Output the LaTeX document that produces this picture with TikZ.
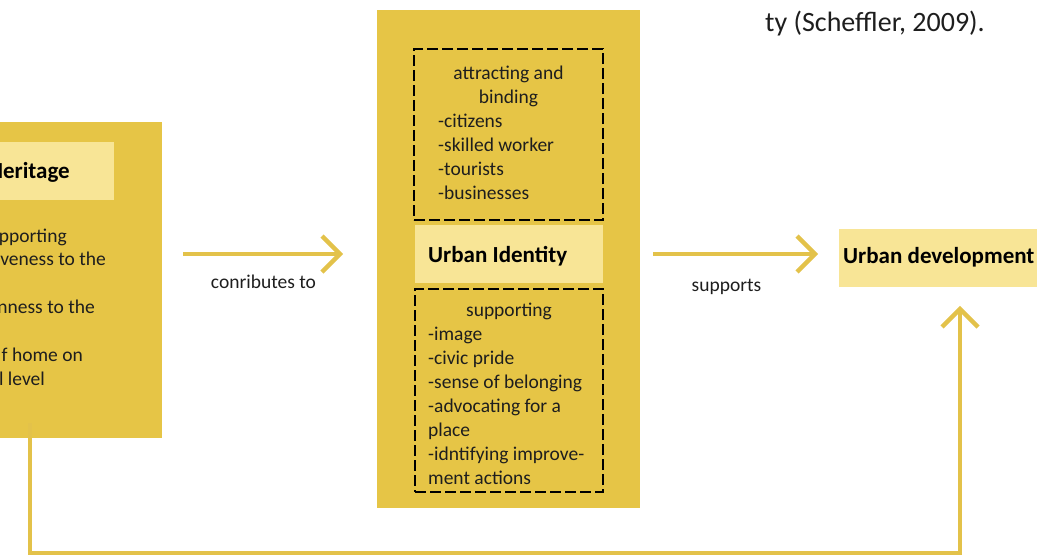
\documentclass[tikz,border=0pt]{standalone}
\usepackage{fontspec}
\setmainfont{Carlito}
\usetikzlibrary{calc}
\definecolor{boxc}{HTML}{E6C546}
\definecolor{lightc}{HTML}{F8E596}
\definecolor{arrc}{HTML}{E3C24A}
\definecolor{txt}{HTML}{1E1E1E}
\tikzset{
  panel/.style={fill=boxc, draw=none, inner sep=0pt, outer sep=0pt},
  labelbox/.style={fill=lightc, draw=none, inner sep=0pt, outer sep=0pt},
  dashbox/.style={draw=black, line width=1.7pt, dash pattern=on 11pt off 4pt, inner sep=0pt},
  body/.style={inner sep=0pt, font=\fontsize{19.5}{24}\selectfont, text=txt},
  boldtext/.style={inner sep=0pt, font=\fontsize{23}{28}\selectfont\bfseries, text=black},
  conn/.style={draw=arrc, line width=4.5pt},
  chevron/.style={draw=arrc, line width=4.5pt, line join=miter},
}
\begin{document}
\begin{tikzpicture}[x=1pt,y=-1pt]
\useasboundingbox (0,0) rectangle (1037,555);
\clip (0,0) rectangle (1037,555);

% panels and label boxes
\node[panel, minimum width=202pt, minimum height=316pt] (left) at (61,280) {};
\node[labelbox, minimum width=154pt, minimum height=58pt] (lefthead) at (37,171) {};
\node[panel, minimum width=263pt, minimum height=498pt] (mid) at (508.5,259) {};
\node[dashbox, minimum width=189pt, minimum height=171pt] (topbox) at (508.5,134.5) {};
\node[labelbox, minimum width=188pt, minimum height=58pt] (idbox) at (509,254) {};
\node[dashbox, minimum width=188pt, minimum height=203pt] (lowbox) at (509,390.5) {};
\node[labelbox, minimum width=211pt, minimum height=58pt] (devbox) at (944.5,258) {};

% left panel texts
\node[boldtext, anchor=base east] (hert) at (70,178) {Heritage};
\node[body, anchor=base east] (l1) at (67,242) {pporting};
\node[body, anchor=base east] (l2) at (106,265) {veness to the};
\node[body, anchor=base east] (l3) at (95,313) {nness to the};
\node[body, anchor=base east] (l4) at (83,361) {f home on};
\node[body, anchor=base east] (l5) at (45,385) {l level};

% middle upper texts
\node[body, anchor=base] (u1) at (508.5,79) {attracting and};
\node[body, anchor=base] (u2) at (508.5,103) {binding};
\foreach \t [count=\i] in {-citizens,-skilled worker,-tourists,-businesses}
  \node[body, anchor=base west] (ui\i) at (438,{103+24*\i}) {\t};

\node[boldtext, anchor=base west] (idtext) at (428,262) {Urban Identity};

% middle lower texts
\node[body, anchor=base] (s1) at (509,316) {supporting};
\foreach \t [count=\i] in {-image,-civic pride,-sense of belonging,-advocating for a,place,-idntifying improve-,ment actions}
  \node[body, anchor=base west] (si\i) at (428,{316+24*\i}) {\t};

% right
\node[boldtext, anchor=base west] (devtext) at (843,263) {Urban development};
\node[inner sep=0pt, anchor=base west, font=\fontsize{28}{34}\selectfont, text=txt] (cite) at (765,31) {ty (Scheffler, 2009).};

% connectors
\coordinate (a1s) at (183,254);
\coordinate (a1e) at (340,254);
\draw[conn] (a1s) -- (a1e);
\draw[chevron] ($(a1e)+(-18,-18)$) -- (a1e) -- ($(a1e)+(-18,18)$);
\node[body, anchor=base] (lab1) at (263.5,288) {conributes to};

\coordinate (a2s) at (653,254);
\coordinate (a2e) at (815,254);
\draw[conn] (a2s) -- (a2e);
\draw[chevron] ($(a2e)+(-18,-18)$) -- (a2e) -- ($(a2e)+(-18,18)$);
\node[body, anchor=base] (lab2) at (726.5,291) {supports};

\coordinate (b1) at (30,423);
\coordinate (b2) at (30,553);
\coordinate (b3) at (960,553);
\coordinate (b4) at (960,309);
\draw[conn, line width=4pt] (b1) -- (b2) -- (b3) -- (b4);
\draw[chevron] ($(b4)+(-18,18)$) -- (b4) -- ($(b4)+(18,18)$);
\end{tikzpicture}
\end{document}
